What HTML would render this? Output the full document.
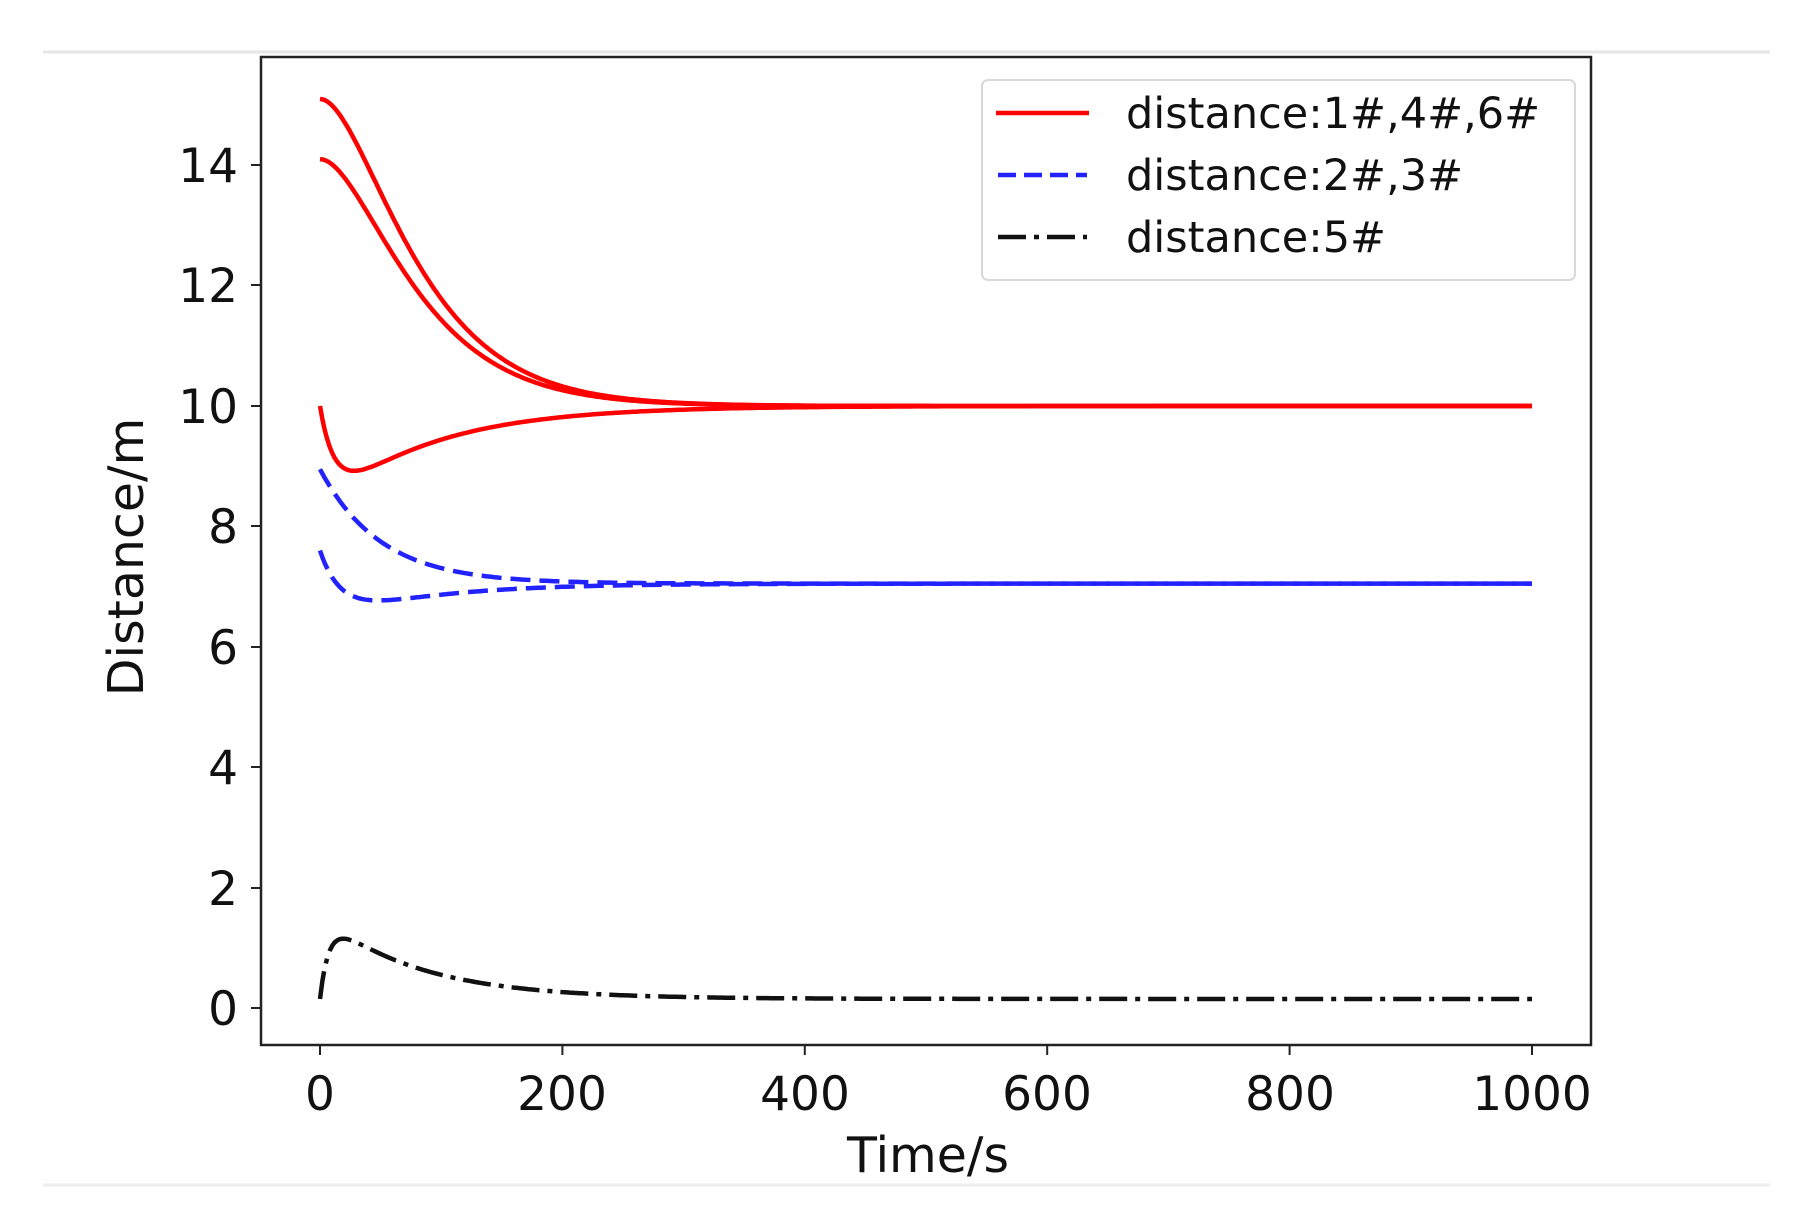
<!DOCTYPE html>
<html><head><meta charset="utf-8"><style>
html,body{margin:0;padding:0;background:#fff;}
svg{display:block;}
text{font-family:"DejaVu Sans","Liberation Sans",sans-serif;fill:#111;}
</style></head><body>
<svg id="s" width="1802" height="1218" xmlns="http://www.w3.org/2000/svg">
<line x1="43" y1="52" x2="1770" y2="52" stroke="#e6e6e6" stroke-width="3"/>
<line x1="43" y1="1185" x2="1770" y2="1185" stroke="#eeeeee" stroke-width="3"/>
<g id="curves"></g>
<rect x="261" y="57" width="1330" height="988" fill="none" stroke="#222" stroke-width="2.5"/>
<g stroke="#222" stroke-width="2">
<line x1="320" y1="1045" x2="320" y2="1055"/><line x1="562.4" y1="1045" x2="562.4" y2="1055"/>
<line x1="804.8" y1="1045" x2="804.8" y2="1055"/><line x1="1047.2" y1="1045" x2="1047.2" y2="1055"/>
<line x1="1289.6" y1="1045" x2="1289.6" y2="1055"/><line x1="1532" y1="1045" x2="1532" y2="1055"/>
<line x1="251" y1="1008" x2="261" y2="1008"/><line x1="251" y1="888" x2="261" y2="888"/>
<line x1="251" y1="767" x2="261" y2="767"/><line x1="251" y1="647" x2="261" y2="647"/>
<line x1="251" y1="526" x2="261" y2="526"/><line x1="251" y1="406" x2="261" y2="406"/>
<line x1="251" y1="285" x2="261" y2="285"/><line x1="251" y1="165" x2="261" y2="165"/>
</g>
<g font-size="47" text-anchor="middle">
<text x="320" y="1110">0</text><text x="562" y="1110">200</text><text x="805" y="1110">400</text>
<text x="1047" y="1110">600</text><text x="1290" y="1110">800</text><text x="1532" y="1110">1000</text>
</g>
<g font-size="47" text-anchor="end">
<text x="238" y="1025">0</text><text x="238" y="905">2</text><text x="238" y="784">4</text>
<text x="238" y="664">6</text><text x="238" y="543">8</text><text x="238" y="423">10</text>
<text x="238" y="302">12</text><text x="238" y="182">14</text>
</g>
<text x="928" y="1172" font-size="49" text-anchor="middle">Time/s</text>
<text transform="translate(143,557) rotate(-90)" font-size="49" text-anchor="middle">Distance/m</text>
<rect x="982" y="80" width="593" height="200" rx="6" fill="#fff" stroke="#d8d8d8" stroke-width="2"/>
<line x1="996" y1="113" x2="1089" y2="113" stroke="#f00" stroke-width="4.5"/>
<line x1="998" y1="175" x2="1087" y2="175" stroke="#22f" stroke-width="4.5" stroke-dasharray="18,8"/>
<line x1="998" y1="237" x2="1087" y2="237" stroke="#111" stroke-width="4.5" stroke-dasharray="28,8,5,8"/>
<g font-size="43">
<text x="1126" y="128">distance:1#,4#,6#</text>
<text x="1126" y="190">distance:2#,3#</text>
<text x="1126" y="252">distance:5#</text>
</g>
</svg>
<script>
var X=function(t){return 320+t*1.212},Y=function(v){return 1008-v*60.2};
function path(f){var d="";for(var t=0;t<=1000;t+=2){d+=(t?"L":"M")+X(t).toFixed(1)+","+Y(f(t)).toFixed(1);}return d;}
var g=function(t){return (1+t/45)*Math.exp(-t/45)};
var E=Math.exp;
var defs=[
[function(t){return 10+5.1*g(t)},"#f00",""],
[function(t){return 10+4.1*g(t)},"#f00",""],
[function(t){return 10-1.7*(1-E(-t/14))*E(-t/90)},"#f00",""],
[function(t){return 7.05+1.9*E(-t/50)},"#22f","20,9"],
[function(t){return 7.05+0.55*E(-t/20)-0.66*(1-E(-t/20))*E(-t/80)},"#22f","20,9"],
[function(t){return 0.15+1.4*(1-E(-t/8))*E(-t/80)},"#111","28,8,5,8"]];
var h="";defs.forEach(function(c){h+='<path d="'+path(c[0])+'" fill="none" stroke="'+c[1]+'" stroke-width="4.5"'+(c[2]?' stroke-dasharray="'+c[2]+'"':'')+'/>';});
document.getElementById("curves").innerHTML=h;
</script>
</body></html>
